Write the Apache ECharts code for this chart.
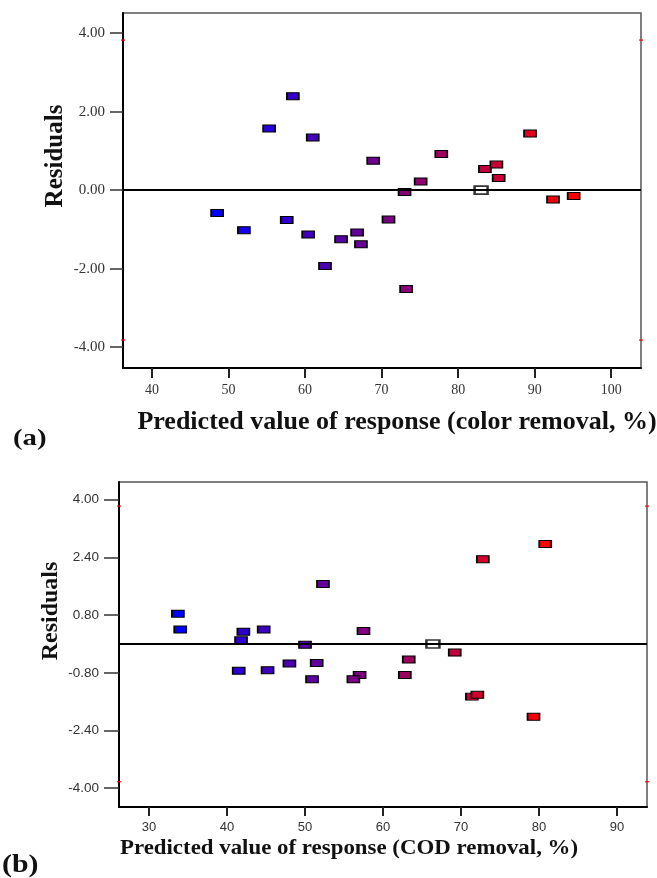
<!DOCTYPE html>
<html>
<head>
<meta charset="utf-8">
<script src="https://cdn.jsdelivr.net/npm/echarts@6/dist/echarts.min.js"></script>
<style>
html,body{margin:0;padding:0;background:#fff;}
#c{width:657px;height:878px;}
</style>
</head>
<body>
<div id="c"></div>
<script>
// ---- Data (a): color removal ----
const aPred = [48.5, 52.0, 55.3, 57.6, 58.4, 60.4, 61.0, 62.6, 64.7, 66.8, 67.3, 68.9, 70.9, 73.0, 73.2, 75.1, 77.8, 83.5, 85.0, 85.3, 89.4, 92.4, 95.1];
const aResid = [-0.58, -1.02, 1.57, -0.76, 2.39, -1.13, 1.34, -1.93, -1.25, -1.08, -1.38, 0.75, -0.75, -0.05, -2.52, 0.22, 0.92, 0.54, 0.65, 0.31, 1.44, -0.24, -0.15];
const aCenter = [[83.0, 0.0]];
const aXTicks = [40, 50, 60, 70, 80, 90, 100];
const aYTicks = [-4, -2, 0, 2, 4];
const aLimit = 3.82;

// ---- Data (b): COD removal ----
const bPred = [33.7, 34.0, 41.5, 41.8, 42.1, 44.7, 45.2, 48.0, 50.0, 51.5, 50.9, 52.3, 57.5, 57.0, 56.2, 63.3, 62.8, 69.2, 71.4, 72.1, 72.8, 79.3, 80.8];
const bResid = [0.84, 0.40, -0.74, 0.10, 0.34, 0.40, -0.73, -0.54, -0.02, -0.53, -0.98, 1.66, 0.36, -0.86, -0.98, -0.43, -0.86, -0.24, -1.46, -1.41, 2.35, -2.02, 2.77];
const bCenter = [[66.4, 0.0]];
const bXTicks = [30, 40, 50, 60, 70, 80, 90];
const bYTicks = [-4.0, -2.4, -0.8, 0.8, 2.4, 4.0];
const bLimit = 3.82;

const serif = '"Liberation Serif", "Times New Roman", serif';
const sans = '"Liberation Sans", Arial, sans-serif';

const aData = aPred.map((v, i) => [v, aResid[i]]);
const bData = bPred.map((v, i) => [v, bResid[i]]);

const aXRange = [36.2, 103.9], aYRange = [-4.53, 4.51];
const bXRange = [26.15, 93.85], bYRange = [-4.52, 4.49];

function xAxisCfg(gi, range, ticks, font, fs, margin, tickLen) {
  return {
    type: 'value', gridIndex: gi, min: range[0], max: range[1],
    axisLine: {show: true, onZero: false, lineStyle: {color: '#000', width: 2}},
    axisTick: {show: true, length: tickLen, customValues: ticks, lineStyle: {color: '#222', width: 2}},
    axisLabel: {customValues: ticks, margin: margin, color: '#333', fontFamily: font, fontSize: fs},
    splitLine: {show: false}
  };
}
function yAxisCfg(gi, range, ticks, font, fs, margin, tickLen) {
  return {
    type: 'value', gridIndex: gi, min: range[0], max: range[1],
    axisLine: {show: true, onZero: false, lineStyle: {color: '#000', width: 2}},
    axisTick: {show: true, length: tickLen, customValues: ticks, lineStyle: {color: '#333', width: 1.5}},
    axisLabel: {customValues: ticks, margin: margin, color: '#333', fontFamily: font, fontSize: fs,
      formatter: v => v.toFixed(2)},
    splitLine: {show: false}
  };
}

function pointSeries(gi, data) {
  return {
    type: 'scatter', xAxisIndex: gi, yAxisIndex: gi, data: data,
    symbol: 'rect', symbolSize: [12, 7],
    itemStyle: {borderColor: '#000', borderWidth: 1.3, opacity: 1},
    z: 3,
    markLine: {
      silent: true, symbol: 'none', label: {show: false},
      lineStyle: {color: '#000', width: 2, type: 'solid'},
      data: [{yAxis: 0}]
    }
  };
}
function centerSeries(gi, data) {
  return {
    type: 'scatter', xAxisIndex: gi, yAxisIndex: gi, data: data,
    symbol: 'rect', symbolSize: [13, 8],
    itemStyle: {color: '#fff', borderColor: '#000', borderWidth: 2}, z: 4
  };
}
function limitSeries(gi, xr, lim) {
  return {
    type: 'scatter', xAxisIndex: gi, yAxisIndex: gi, clip: false,
    data: [[xr[0], lim], [xr[0], -lim], [xr[1], lim], [xr[1], -lim]],
    symbol: 'rect', symbolSize: [4, 1.5],
    itemStyle: {color: '#ff0000'}, z: 5
  };
}

const chart = echarts.init(document.getElementById('c'), null, {renderer: 'canvas'});
chart.setOption({
  backgroundColor: '#fff',
  animation: false,
  grid: [
    {left: 123, right: 16, top: 13, bottom: 510, show: true, borderColor: '#555', borderWidth: 1.5, backgroundColor: '#fff'},
    {left: 119, right: 10, top: 482, bottom: 71, show: true, borderColor: '#555', borderWidth: 1.5, backgroundColor: '#fff'}
  ],
  xAxis: [
    xAxisCfg(0, aXRange, aXTicks, serif, 14, 15, 10),
    xAxisCfg(1, bXRange, bXTicks, sans, 13, 14, 9)
  ],
  yAxis: [
    yAxisCfg(0, aYRange, aYTicks, serif, 15, 18, 13),
    yAxisCfg(1, bYRange, bYTicks, sans, 13.5, 20, 15)
  ],
  visualMap: [
    {type: 'continuous', show: false, seriesIndex: 0, dimension: 0,
     min: Math.min(...aPred), max: Math.max(...aPred), inRange: {color: ['#0000ff', '#ff0000']}},
    {type: 'continuous', show: false, seriesIndex: 3, dimension: 0,
     min: Math.min(...bPred), max: Math.max(...bPred), inRange: {color: ['#0000ff', '#ff0000']}}
  ],
  series: [
    pointSeries(0, aData),
    centerSeries(0, aCenter),
    limitSeries(0, aXRange, aLimit),
    pointSeries(1, bData),
    centerSeries(1, bCenter),
    limitSeries(1, bXRange, bLimit)
  ],
  graphic: [
    {type: 'text', x: 56, y: 156, rotation: Math.PI / 2,
     style: {text: 'Residuals', font: 'bold 25px ' + serif, fill: '#111', textAlign: 'center', textVerticalAlign: 'middle'}},
    {type: 'text', x: 397, y: 423, scaleX: 1.04,
     style: {text: 'Predicted value of response (color removal, %)', font: 'bold 25px ' + serif, fill: '#111', textAlign: 'center', textVerticalAlign: 'middle'}},
    {type: 'text', x: 13, y: 439, scaleX: 1.2,
     style: {text: '(a)', font: 'bold 24px ' + serif, fill: '#111', textAlign: 'left', textVerticalAlign: 'middle'}},
    {type: 'text', x: 51, y: 611, rotation: Math.PI / 2,
     style: {text: 'Residuals', font: 'bold 24px ' + serif, fill: '#111', textAlign: 'center', textVerticalAlign: 'middle'}},
    {type: 'text', x: 349, y: 848, scaleX: 1.04,
     style: {text: 'Predicted value of response (COD removal, %)', font: 'bold 22px ' + serif, fill: '#111', textAlign: 'center', textVerticalAlign: 'middle'}},
    {type: 'text', x: 2, y: 865, scaleX: 1.15,
     style: {text: '(b)', font: 'bold 26px ' + serif, fill: '#111', textAlign: 'left', textVerticalAlign: 'middle'}}
  ]
});
</script>
</body>
</html>
